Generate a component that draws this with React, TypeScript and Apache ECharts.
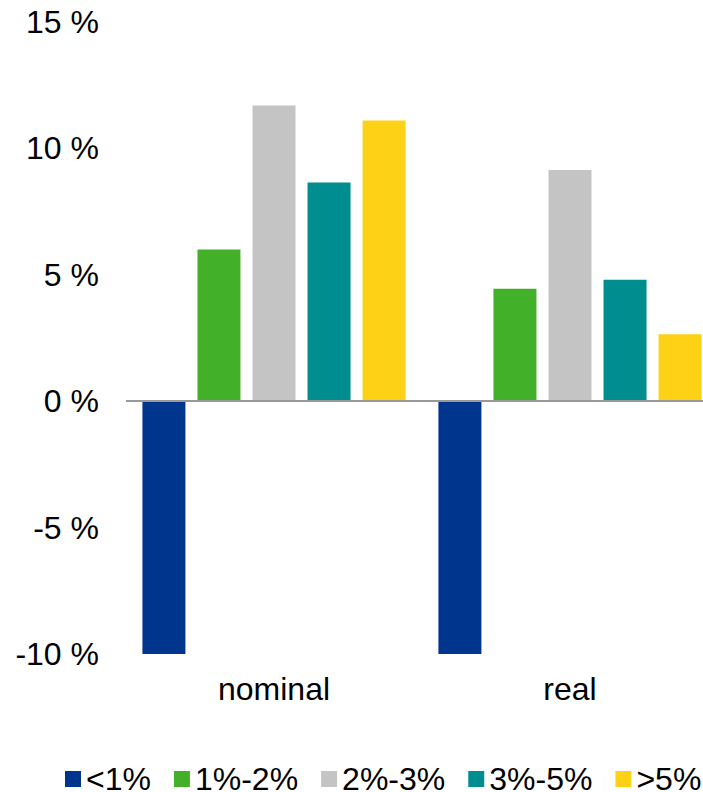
import React, { useEffect, useRef } from "react";
import * as echarts from "echarts";

const categories = ["nominal", "real"];
const seriesNames = ["<1%", "1%-2%", "2%-3%", "3%-5%", ">5%"];
const valuesLt1 = [-10, -10];
const values1to2 = [6.0, 4.45];
const values2to3 = [11.7, 9.15];
const values3to5 = [8.65, 4.8];
const valuesGt5 = [11.1, 2.65];
const seriesValues = [valuesLt1, values1to2, values2to3, values3to5, valuesGt5];
const colors = ["#00358E", "#43B02A", "#C4C4C4", "#008D8F", "#FDD116"];
const yMin = -10;
const yMax = 15;
const yInterval = 5;

const FONT = "Liberation Sans, Arial, sans-serif";

export default function App() {
  const ref = useRef<HTMLDivElement>(null);
  useEffect(() => {
    if (!ref.current) return;
    const chart = echarts.init(ref.current, undefined, { renderer: "svg" });
    const series: any[] = seriesNames.map((name, i) => ({
      name,
      type: "bar",
      data: seriesValues[i],
      barWidth: 43,
      barGap: "28%",
      itemStyle: { color: colors[i] },
      ...(i === 0
        ? {
            markLine: {
              silent: true,
              symbol: "none",
              label: { show: false },
              lineStyle: { color: "#999999", width: 2, type: "solid" },
              data: [{ yAxis: 0 }],
              z: 10,
            },
          }
        : {}),
    }));
    chart.setOption({
      animation: false,
      backgroundColor: "#ffffff",
      textStyle: { fontFamily: FONT },
      grid: { left: 126, right: 0, top: 22, bottom: 138, containLabel: false },
      legend: {
        data: seriesNames,
        left: 65,
        top: 763,
        width: 700,
        padding: 0,
        itemWidth: 16,
        itemHeight: 16,
        itemGap: 23,
        icon: "rect",
        textStyle: { fontSize: 32, lineHeight: 26, color: "#000000", fontFamily: FONT },
      },
      xAxis: {
        type: "category",
        data: categories,
        axisLine: { show: false },
        axisTick: { show: false },
        axisLabel: { fontSize: 32, color: "#000000", margin: 19, fontFamily: FONT },
        splitLine: { show: false },
      },
      yAxis: {
        type: "value",
        min: yMin,
        max: yMax,
        interval: yInterval,
        axisLine: { show: false },
        axisTick: { show: false },
        splitLine: { show: false },
        axisLabel: {
          fontSize: 32,
          color: "#000000",
          margin: 27,
          fontFamily: FONT,
          formatter: "{value} %",
        },
      },
      series,
    });
    return () => chart.dispose();
  }, []);
  return (
    <div
      style={{
        position: "fixed",
        left: 0,
        top: 0,
        width: 703,
        height: 792,
        overflow: "hidden",
        background: "#ffffff",
      }}
    >
      <div ref={ref} style={{ width: 718, height: 792 }} />
    </div>
  );
}
